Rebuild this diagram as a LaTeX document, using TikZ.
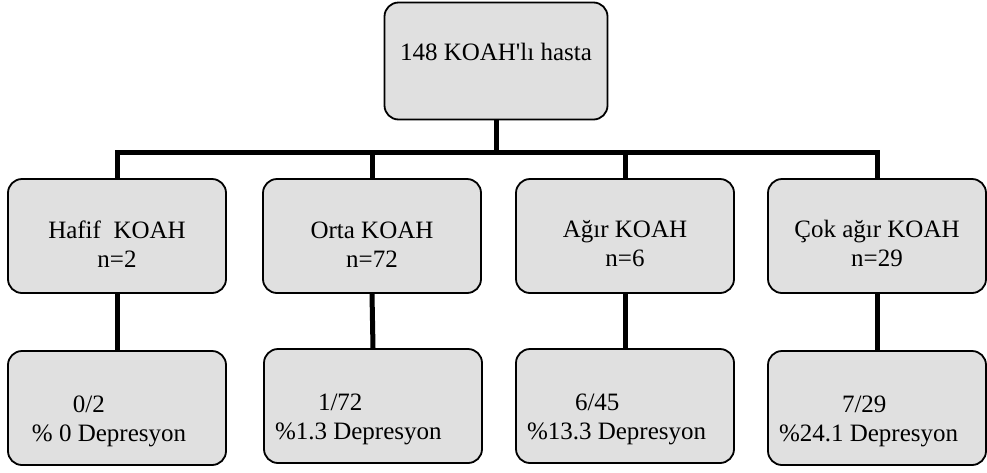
\documentclass[tikz,border=0pt]{standalone}
\usepackage{fontspec}
\setmainfont{Liberation Serif}[Ligatures=TeXOff]

\begin{document}
\begin{tikzpicture}[x=1pt, y=-1pt,
    box/.style={draw=black, line width=1.8pt, rounded corners=14pt, fill=black!12,
      minimum width=218pt, minimum height=114pt, inner sep=0pt, align=center,
      font=\fontsize{25}{29}\selectfont, text height=62pt},
    res/.style={box, align=flush left, text width=196pt, text height=44pt},
    link/.style={draw=black, line width=5pt}]
  \useasboundingbox (0,0) rectangle (987,472);

  \node[box, minimum width=223pt, minimum height=117pt, text height=17pt, text depth=18pt] (all) at (496,61) {148 KOAH'lı hasta};

  \node[box] (mid1) at (117,236) {Hafif~~KOAH\\n=2};
  \node[box] (mid2) at (372,236) {Orta KOAH\\n=72};
  \node[box] (mid3) at (625,236) {Ağır KOAH\\n=6};
  \node[box] (mid4) at (877,236) {Çok ağır KOAH\\n=29};

  \node[res] (low1) at (117,408) {\hspace*{54pt}0/2\\\hspace*{13pt}\% 0 Depresyon};
  \node[res] (low2) at (373,406) {\hspace*{43pt}1/72\\\%1.3 Depresyon};
  \node[res] (low3) at (625,406) {\hspace*{48pt}6/45\\\%13.3 Depresyon};
  \node[res] (low4) at (877,408) {\hspace*{63pt}7/29\\\%24.1 Depresyon};

  \foreach \i in {1,...,4} {
    \draw[link] (all.south) -- ++(0,32) -| (mid\i.north);
    \draw[link] (mid\i.south) -- (low\i.north);
  }
\end{tikzpicture}
\end{document}
